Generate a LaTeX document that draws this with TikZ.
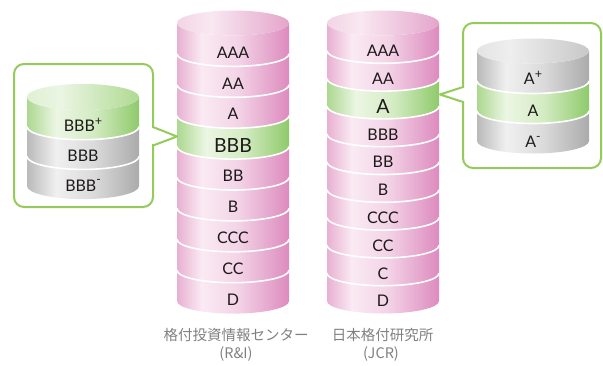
\documentclass[tikz,border=0pt]{standalone}
\usepackage{fontspec}
\setmainfont{Lato}
\newfontfamily\jfont{Noto Sans CJK JP}
\definecolor{pkL}{HTML}{E8B0D2}
\definecolor{pkM}{HTML}{FAEAF3}
\definecolor{pkC}{HTML}{F3D4E7}
\definecolor{pkR}{HTML}{DD8BBE}
\definecolor{ptL}{HTML}{F2D5E5}
\definecolor{ptM}{HTML}{F9E8F1}
\definecolor{ptR}{HTML}{E4A5CB}
\definecolor{grL}{HTML}{ACD88F}
\definecolor{grM}{HTML}{ECF6E4}
\definecolor{grC}{HTML}{D3EBC2}
\definecolor{grR}{HTML}{8FCA6B}
\definecolor{gtL}{HTML}{DFF0D3}
\definecolor{gtM}{HTML}{EBF5E3}
\definecolor{gtR}{HTML}{AFDA92}
\definecolor{gyL}{HTML}{BABABA}
\definecolor{gyM}{HTML}{F0F0F0}
\definecolor{gyC}{HTML}{DADADA}
\definecolor{gyR}{HTML}{ABABAB}
\definecolor{gqL}{HTML}{E4E4E4}
\definecolor{gqM}{HTML}{EEEEEE}
\definecolor{gqR}{HTML}{C8C8C8}
\definecolor{callgreen}{HTML}{95CB5A}
\definecolor{labtext}{HTML}{1E1A1B}
\definecolor{captext}{HTML}{808080}
\pgfdeclarehorizontalshading{pinkbody}{100bp}{color(0bp)=(pkL); color(25bp)=(pkL); color(36bp)=(pkM); color(52bp)=(pkC); color(75bp)=(pkR); color(100bp)=(pkR)}
\pgfdeclarehorizontalshading{pinktop}{100bp}{color(0bp)=(ptL); color(25bp)=(ptL); color(40bp)=(ptM); color(75bp)=(ptR); color(100bp)=(ptR)}
\pgfdeclarehorizontalshading{greenbody}{100bp}{color(0bp)=(grL); color(25bp)=(grL); color(38bp)=(grM); color(55bp)=(grC); color(75bp)=(grR); color(100bp)=(grR)}
\pgfdeclarehorizontalshading{greentop}{100bp}{color(0bp)=(gtL); color(25bp)=(gtL); color(40bp)=(gtM); color(75bp)=(gtR); color(100bp)=(gtR)}
\pgfdeclarehorizontalshading{graybody}{100bp}{color(0bp)=(gyL); color(25bp)=(gyL); color(38bp)=(gyM); color(55bp)=(gyC); color(75bp)=(gyR); color(100bp)=(gyR)}
\pgfdeclarehorizontalshading{graytop}{100bp}{color(0bp)=(gqL); color(25bp)=(gqL); color(40bp)=(gqM); color(75bp)=(gqR); color(100bp)=(gqR)}
% band: cx, rx, ry, ytop, ybot, shading
\newcommand\cylband[6]{%
  \shade[shading=#6] ({#1-#2},{-(#4)}) -- ({#1-#2},{-(#5)})
    arc[start angle=180,end angle=360,x radius=#2,y radius=#3]
    -- ({#1+#2},{-(#4)})
    arc[start angle=0,end angle=-180,x radius=#2,y radius=#3] -- cycle;}
\newcommand\cylsep[4]{%
  \draw[sepline] ({#1-#2},{-(#4)}) arc[start angle=180,end angle=360,x radius=#2,y radius=#3];}
\newcommand\cyltop[5]{%
  \shade[shading=#5] ({#1},{-(#4)}) ellipse[x radius=#2,y radius=#3];}
\newcommand\supp{\raisebox{0.36em}{\fontsize{12.5}{12}\selectfont +}}
\newcommand\supm{\raisebox{0.45em}{\fontsize{12}{12}\selectfont -}}
\tikzset{
  sepline/.style={white,line width=1.6pt},
  lab/.style={text=labtext,font=\fontsize{16}{17}\selectfont,inner sep=0pt},
  labbig/.style={text=labtext,font=\fontsize{19.5}{20}\selectfont,inner sep=0pt},
  caption/.style={text=captext,font=\jfont\fontsize{14.5}{16}\selectfont,inner sep=0pt},
  callout/.style={draw=callgreen,line width=2pt,line join=round},
}
\begin{document}
\begin{tikzpicture}[x=1pt,y=1pt]
\useasboundingbox (0,0) rectangle (603,-365);
% ---------- R&I cylinder ----------
\def\cx{233}\def\rx{56}\def\ry{12.5}\def\top{23}\def\h{30.9}
\foreach \i/\lab in {0/AAA,1/AA,2/A,3/BBB,4/BB,5/B,6/CCC,7/CC,8/D}{
  \ifnum\i=3
    \cylband{\cx}{\rx}{\ry}{\top+\h*\i}{\top+\h*\i+\h}{greenbody}
    \node[labbig] (ri\i) at (\cx,{-(\top+\h*\i+\h/2+\ry+1.5)}) {\lab};
  \else
    \cylband{\cx}{\rx}{\ry}{\top+\h*\i}{\top+\h*\i+\h}{pinkbody}
    \node[lab] (ri\i) at (\cx,{-(\top+\h*\i+\h/2+\ry+1.5)}) {\lab};
  \fi
}
\foreach \i in {1,...,8}{\cylsep{\cx}{\rx}{\ry}{\top+\h*\i}}
\cyltop{\cx}{\rx}{\ry}{\top}{pinktop}
\node[caption] (ricap1) at (236,-335) {格付投資情報センター};
\node[caption] (ricap2) at (236,-353.5) {(R\&I)};
% ---------- JCR cylinder ----------
\def\cx{383}\def\h{27.8}
\foreach \i/\lab in {0/AAA,1/AA,2/A,3/BBB,4/BB,5/B,6/CCC,7/CC,8/C,9/D}{
  \ifnum\i=2
    \cylband{\cx}{\rx}{\ry}{\top+\h*\i}{\top+\h*\i+\h}{greenbody}
    \node[labbig] (jc\i) at (\cx,{-(\top+\h*\i+\h/2+\ry+1.5)}) {\lab};
  \else
    \cylband{\cx}{\rx}{\ry}{\top+\h*\i}{\top+\h*\i+\h}{pinkbody}
    \node[lab] (jc\i) at (\cx,{-(\top+\h*\i+\h/2+\ry+1.5)}) {\lab};
  \fi
}
\foreach \i in {1,...,9}{\cylsep{\cx}{\rx}{\ry}{\top+\h*\i}}
\cyltop{\cx}{\rx}{\ry}{\top}{pinktop}
\node[caption] (jccap1) at (382.5,-335) {日本格付研究所};
\node[caption] (jccap2) at (381,-353.5) {(JCR)};
% ---------- left callout ----------
\coordinate (lp) at (177,-136.5);
\draw[callout,fill=white,rounded corners=10pt] (14,-64) rectangle (153,-207);
\fill[white] (150,-128) rectangle (155,-144);
\draw[callout] (153,-127) -- (lp) -- (153,-145.5);
\def\cx{83}\def\ry{13}\def\top{97}\def\h{29.7}
\cylband{\cx}{\rx}{\ry}{\top}{\top+\h}{greenbody}
\cylband{\cx}{\rx}{\ry}{\top+\h}{\top+2*\h}{graybody}
\cylband{\cx}{\rx}{\ry}{\top+2*\h}{\top+3*\h}{graybody}
\cylsep{\cx}{\rx}{\ry}{\top+\h}
\cylsep{\cx}{\rx}{\ry}{\top+2*\h}
\cyltop{\cx}{\rx}{\ry}{\top}{greentop}
\node[lab,anchor=base] (lb1) at (\cx,{-(\top+\h/2+\ry+1+5.8)}) {BBB\supp};
\node[lab] (lb2) at (\cx,{-(\top+1.5*\h+\ry+1)}) {BBB};
\node[lab,anchor=base] (lb3) at (\cx,{-(\top+2.5*\h+\ry+1+5.8)}) {BBB\supm};
% ---------- right callout ----------
\coordinate (rp) at (440,-94.5);
\draw[callout,fill=white,rounded corners=10pt] (463,-23) rectangle (601,-168);
\fill[white] (461,-88) rectangle (466,-101);
\draw[callout] (463,-87) -- (rp) -- (463,-102);
\def\cx{533}\def\ry{12.5}\def\top{51}\def\h{30}
\cylband{\cx}{\rx}{\ry}{\top}{\top+\h}{graybody}
\cylband{\cx}{\rx}{\ry}{\top+\h}{\top+2*\h}{greenbody}
\cylband{\cx}{\rx}{\ry}{\top+2*\h}{\top+3*\h}{graybody}
\cylsep{\cx}{\rx}{\ry}{\top+\h}
\cylsep{\cx}{\rx}{\ry}{\top+2*\h}
\cyltop{\cx}{\rx}{\ry}{\top}{graytop}
\node[lab,anchor=base] (ra1) at (\cx,{-(\top+\h/2+\ry+0+5.8)}) {A\supp};
\node[lab] (ra2) at (\cx,{-(\top+1.5*\h+\ry+2)}) {A};
\node[lab,anchor=base] (ra3) at (\cx,{-(\top+2.5*\h+\ry+3+5.8)}) {A\supm};
\end{tikzpicture}
\end{document}
